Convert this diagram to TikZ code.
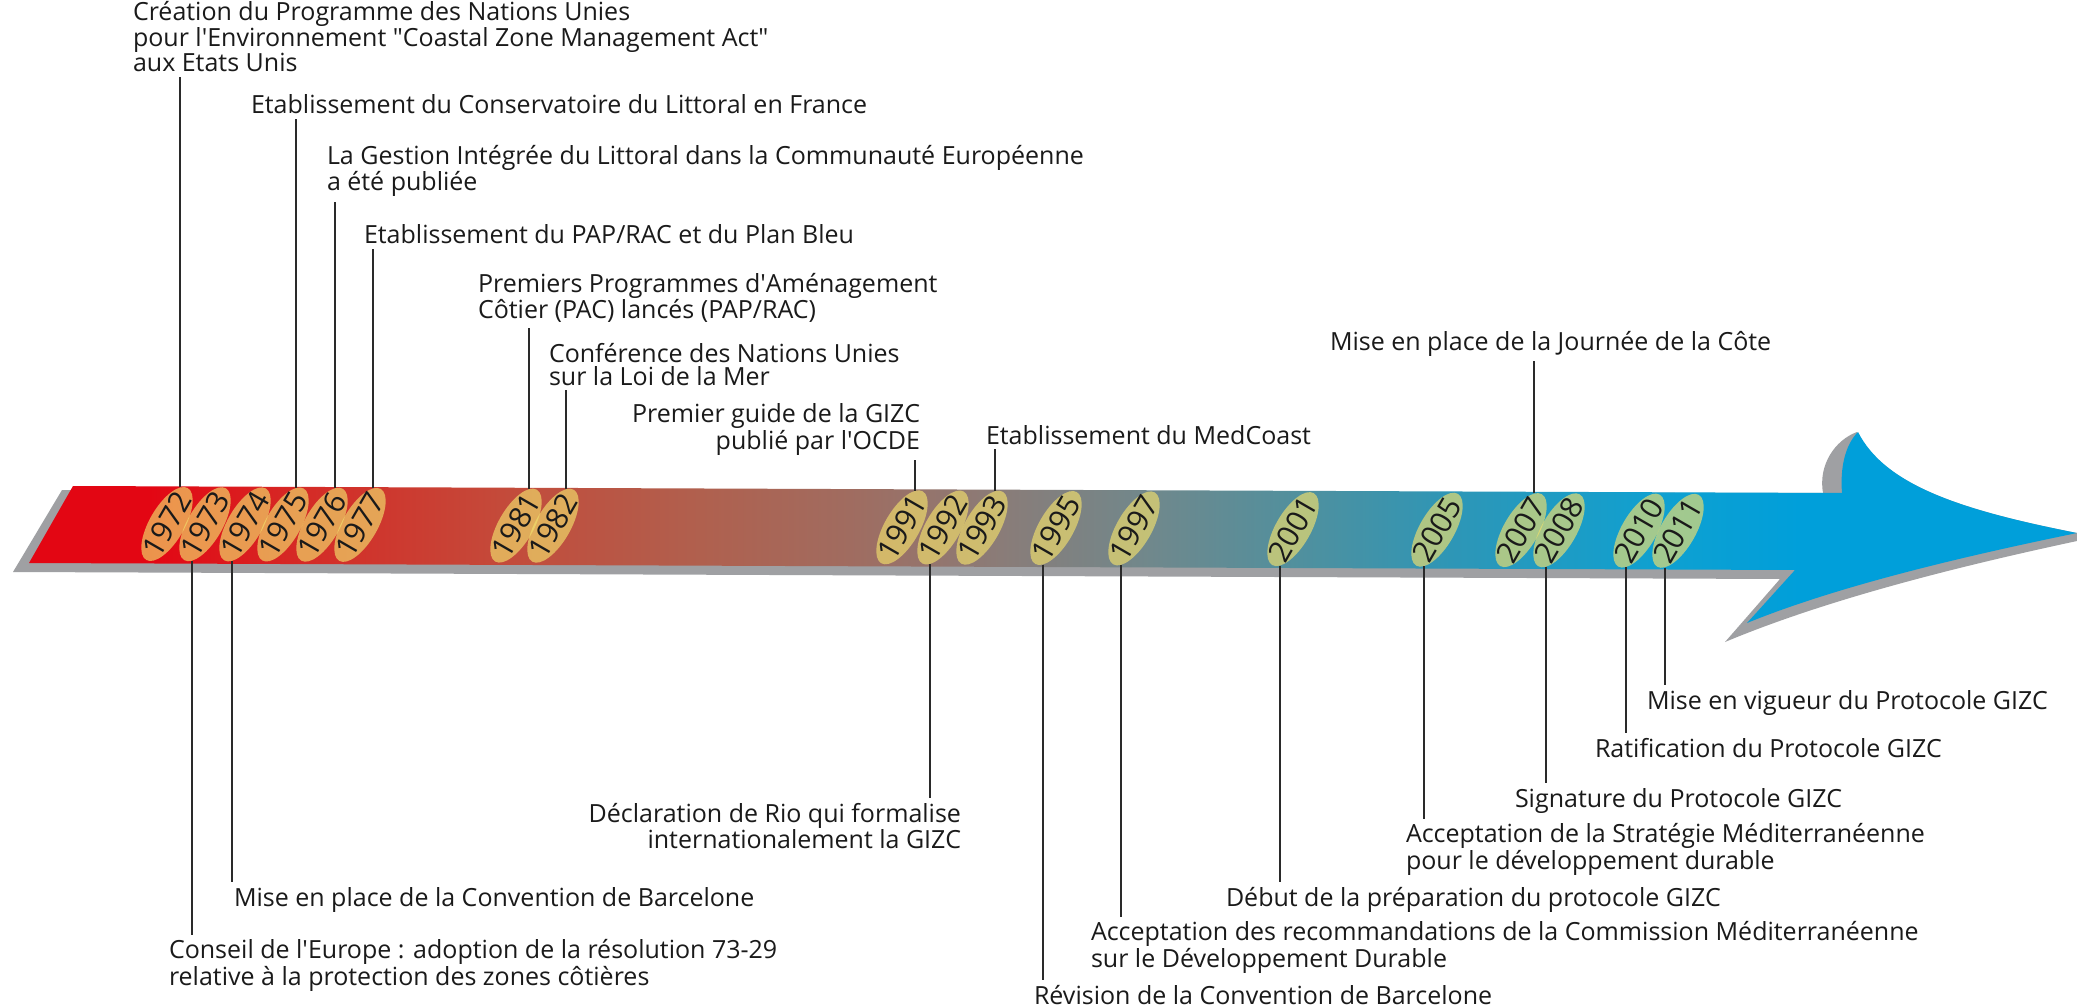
\documentclass[tikz,border=0pt]{standalone}
\usepackage{fontspec}
\setmainfont{Open Sans}
\usetikzlibrary{shapes.geometric}

% colour ramp of the time arrow, red on the left to blue at the head
\definecolor{tlA}{HTML}{E30613}
\definecolor{tlB}{HTML}{D52A26}
\definecolor{tlC}{HTML}{C44A3A}
\definecolor{tlD}{HTML}{B0604E}
\definecolor{tlE}{HTML}{A06C60}
\definecolor{tlF}{HTML}{8A7C78}
\definecolor{tlG}{HTML}{70888C}
\definecolor{tlH}{HTML}{50909E}
\definecolor{tlI}{HTML}{2E96B6}
\definecolor{tlJ}{HTML}{10A0D0}
\definecolor{tlK}{HTML}{009FDA}
\definecolor{shadowgray}{HTML}{9FA0A3}
\definecolor{ovalfill}{HTML}{F2E06C}
\definecolor{leadclr}{HTML}{2A2A2A}
\definecolor{labtext}{HTML}{1A1A1A}

\pgfdeclarehorizontalshading{timeline}{100bp}{%
  color(0bp)=(tlA); color(25bp)=(tlA); color(27.95bp)=(tlA);
  color(31.62bp)=(tlB); color(36.5bp)=(tlC); color(41.38bp)=(tlD);
  color(45.04bp)=(tlE); color(48.71bp)=(tlF); color(52.37bp)=(tlG);
  color(56.03bp)=(tlH); color(59.69bp)=(tlI); color(64.58bp)=(tlJ);
  color(68.24bp)=(tlK); color(75bp)=(tlK); color(100bp)=(tlK)}

\newcommand\labfont{\fontsize{25}{22.5}\selectfont}
\newcommand\yrfont{\fontsize{30}{30}\selectfont}
\newcommand\sq{\textquotesingle}
\newcommand\dq{\textquotedbl}

\tikzset{
  oval/.style={ellipse, minimum width=83pt, minimum height=35pt, inner sep=0pt,
    fill=ovalfill, fill opacity=0.65, rotate=60},
  yeartxt/.style={inner sep=0pt, font=\yrfont, text=labtext, rotate=60},
  lab/.style={inner sep=0pt, outer sep=5pt, align=left, font=\labfont, text=labtext},
  labr/.style={lab, align=right},
  leader/.style={draw=leadclr, line width=2pt}
}

\begin{document}
\begin{tikzpicture}[x=1pt, y=-1pt]
\fill[white] (0,0) rectangle (2077,1008);
\useasboundingbox (0,0) rectangle (2077,1008);

% drop shadow of the arrow
\fill[shadowgray] (62,490) -- (13,572) -- (1780,579) -- (1725,642)
  .. controls (1830,598) and (1965,565) .. (2077,541) -- (2077,533)
  .. controls (1960,510) and (1885,485) .. (1857,432)
  .. controls (1835,440) and (1818,465) .. (1823,493) -- cycle;

% the arrow itself
\path[shading=timeline, shading angle=0] (73,486) -- (1842,493)
  .. controls (1840,468) and (1845,445) .. (1858,432)
  .. controls (1885,485) and (1960,510) .. (2077,533)
  .. controls (1970,555) and (1840,585) .. (1747,623)
  -- (1795,570) -- (29,563) -- cycle;

% year ovals
\foreach \yr/\xx/\yy in {1972/167/524.0, 1973/205/524.2, 1974/245/524.4,
    1975/283/524.5, 1976/322/524.7, 1977/360/524.9, 1981/516/525.6,
    1982/553/525.7, 1991/902/527.3, 1992/943/527.5, 1993/982/527.7,
    1995/1056/528.0, 1997/1134/528.4, 2001/1293/529.1, 2005/1437/529.7,
    2007/1521/530.1, 2008/1559/530.3, 2010/1639/530.6, 2011/1678/530.8}{
  \node[oval] (o\yr) at (\xx,\yy) {};
  \node[yeartxt] (t\yr) at (o\yr) {\yr};
}

% events above the arrow (anchored on the baseline of the last line)
\node[lab, anchor=base west] (l1972) at (128,72) {Création du Programme des Nations Unies\\pour l\sq Environnement \dq Coastal Zone Management Act\dq\\aux Etats Unis};
\node[lab, anchor=base west] (l1975) at (246,114) {Etablissement du Conservatoire du Littoral en France};
\node[lab, anchor=base west] (l1976) at (322,191) {La Gestion Intégrée du Littoral dans la Communauté Européenne\\a été publiée};
\node[lab, anchor=base west] (l1977) at (359,244) {Etablissement du PAP/RAC et du Plan Bleu};
\node[lab, anchor=base west] (l1981) at (473,319) {Premiers Programmes d\sq Aménagement\\Côtier (PAC) lancés (PAP/RAC)};
\node[lab, anchor=base west] (l1982) at (544,385) {Conférence des Nations Unies\\sur la Loi de la Mer};
\node[labr, anchor=base east] (l1991) at (925,449) {Premier guide de la GIZC\\publié par l\sq OCDE};
\node[lab, anchor=base west] (l1993) at (981,444) {Etablissement du MedCoast};
\node[lab, anchor=base west] (l2007) at (1325,350) {Mise en place de la Journée de la Côte};

% events below the arrow
\node[labr, anchor=base east] (l1992) at (966,848) {Déclaration de Rio qui formalise\\internationalement la GIZC};
\node[lab, anchor=base west] (l1974) at (229,906) {Mise en place de la Convention de Barcelone};
\node[lab, anchor=base west] (l1973) at (164,985) {Conseil de l\sq Europe : adoption de la résolution 73-29\\relative à la protection des zones côtières};
\node[lab, anchor=base west] (l1995) at (1029,1004) {Révision de la Convention de Barcelone};
\node[lab, anchor=base west] (l1997) at (1086,967) {Acceptation des recommandations de la Commission Méditerranéenne\\sur le Développement Durable};
\node[lab, anchor=base west] (l2001) at (1221,906) {Début de la préparation du protocole GIZC};
\node[lab, anchor=base west] (l2005) at (1401,869) {Acceptation de la Stratégie Méditerranéenne\\pour le développement durable};
\node[lab, anchor=base west] (l2008) at (1510,807) {Signature du Protocole GIZC};
\node[lab, anchor=base west] (l2010) at (1590,757) {Ratification du Protocole GIZC};
\node[lab, anchor=base west] (l2011) at (1642,709) {Mise en vigueur du Protocole GIZC};

% leader lines
\foreach \yr in {1972,1975,1976,1977,1981,1982,1991,1993,2007}
  \draw[leader] (o\yr.10) -- (o\yr.10 |- l\yr.south);
\foreach \yr in {1973,1974,1992,1995,1997,2001,2005,2008,2010,2011}
  \draw[leader] (o\yr.190) -- (o\yr.190 |- l\yr.north);
\end{tikzpicture}
\end{document}
